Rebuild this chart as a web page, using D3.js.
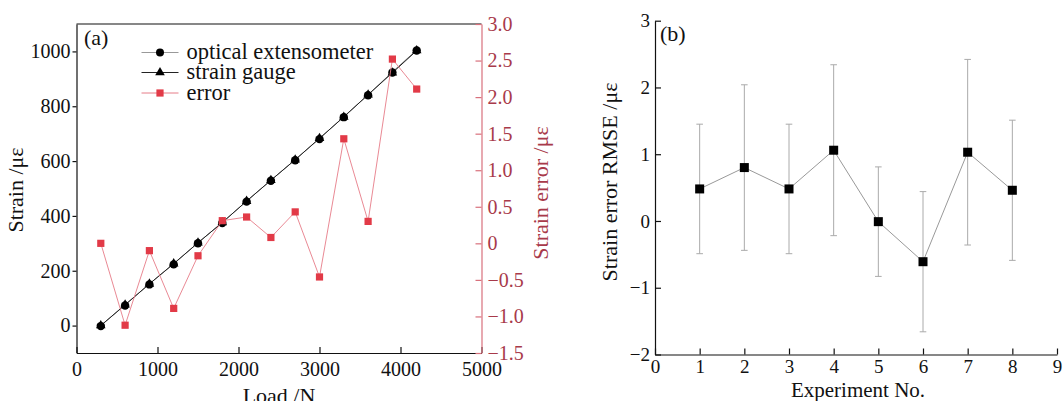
<!DOCTYPE html>
<html>
<head>
<meta charset="utf-8">
<script src="https://cdn.jsdelivr.net/npm/d3@7"></script>
<style>
  body { margin: 0; background: #fff; }
  svg text { font-family: "Liberation Serif", "Times New Roman", "DejaVu Serif", serif; }
  .axis path, .axis line { stroke: #111; stroke-width: 1.2; }
  .axis text { fill: #111; }
  .axis-red path, .axis-red line { stroke: #d8707c; stroke-width: 1.2; }
  .axis-red text { fill: #a83a4a; }
</style>
</head>
<body>
<div id="chart-container"></div>
<script>
// panel (a) data
const loads = [300, 600, 900, 1200, 1500, 1800, 2100, 2400, 2700, 3000, 3300, 3600, 3900, 4200];
const opticalStrain = [0, 75, 152, 225, 302, 376, 454, 530, 605, 682, 762, 842, 925, 1005];
const gaugeStrain = [0, 76, 152, 226, 302, 376, 454, 530, 605, 683, 761, 842, 922, 1003];
const strainError = [0, -1.12, -0.10, -0.89, -0.17, 0.31, 0.36, 0.08, 0.43, -0.46, 1.43, 0.30, 2.52, 2.11];
const loadTicks = [0, 1000, 2000, 3000, 4000, 5000];
const strainTicks = [0, 200, 400, 600, 800, 1000];
const errorTicks = [-1.5, -1.0, -0.5, 0, 0.5, 1.0, 1.5, 2.0, 2.5, 3.0];

// panel (b) data
const experiments = [1, 2, 3, 4, 5, 6, 7, 8];
const rmse = [0.48, 0.80, 0.48, 1.06, -0.01, -0.61, 1.03, 0.46];
const rmseSd = [0.97, 1.24, 0.97, 1.28, 0.82, 1.05, 1.39, 1.05];
const expTicks = [0, 1, 2, 3, 4, 5, 6, 7, 8, 9];
const rmseTicks = [-2, -1, 0, 1, 2, 3];

const width = 1063, height = 401;
const red = "#e23a47", redLine = "#e67c88", redText = "#a83a4a";
const intFmt = d3.format("d");

const svg = d3.select("#chart-container")
  .append("svg")
  .attr("width", width)
  .attr("height", height)
  .attr("font-family", "Liberation Serif, serif");

// ---------- panel (a) ----------
const xA = d3.scaleLinear().domain([0, 5000]).range([76.5, 481.5]);
const yL = d3.scaleLinear().domain([-100, 1100]).range([353, 24]);
const yR = d3.scaleLinear().domain([-1.5, 3.0]).range([353, 24]);

const gA = svg.append("g");

// top frame line
gA.append("line")
  .attr("x1", xA(0)).attr("x2", xA(5000))
  .attr("y1", yL(1100)).attr("y2", yL(1100))
  .attr("stroke", "#111").attr("stroke-width", 1.2);

gA.append("g")
  .attr("class", "axis")
  .attr("transform", `translate(0,${yL(-100)})`)
  .call(d3.axisBottom(xA).tickValues(loadTicks).tickFormat(intFmt).tickSizeInner(-6).tickSizeOuter(0).tickPadding(9))
  .selectAll("text").style("font-size", "20px");

gA.append("g")
  .attr("class", "axis")
  .attr("transform", `translate(${xA(0)},0)`)
  .call(d3.axisLeft(yL).tickValues(strainTicks).tickFormat(intFmt).tickSizeInner(4).tickSizeOuter(0).tickPadding(2))
  .selectAll("text").style("font-size", "20px");

gA.append("g")
  .attr("class", "axis-red")
  .attr("transform", `translate(${xA(5000)},0)`)
  .call(d3.axisRight(yR).tickValues(errorTicks).tickSizeInner(-6).tickSizeOuter(0).tickPadding(6)
    .tickFormat(d => d === 0 ? "0" : d3.format(".1f")(d)))
  .selectAll("text").style("font-size", "20px");

// axis titles
gA.append("text")
  .attr("transform", "translate(23,190) rotate(-90)")
  .attr("text-anchor", "middle")
  .style("font-size", "22px")
  .attr("fill", "#111")
  .text("Strain /με");

gA.append("text")
  .attr("transform", "translate(548,193) rotate(-90)")
  .attr("text-anchor", "middle")
  .style("font-size", "22px")
  .attr("fill", redText)
  .text("Strain error /με");

gA.append("text")
  .attr("x", 279).attr("y", 403)
  .attr("text-anchor", "middle")
  .style("font-size", "22px")
  .attr("fill", "#111")
  .text("Load /N");

gA.append("text")
  .attr("x", 84).attr("y", 45)
  .style("font-size", "22px")
  .attr("fill", "#111")
  .text("(a)");

// strain lines
const strainLine = d3.line().x((d, i) => xA(loads[i])).y(d => yL(d));
gA.append("path")
  .datum(opticalStrain)
  .attr("d", strainLine)
  .attr("fill", "none").attr("stroke", "#777").attr("stroke-width", 1);
gA.append("path")
  .datum(gaugeStrain)
  .attr("d", strainLine)
  .attr("fill", "none").attr("stroke", "#222").attr("stroke-width", 1);

const tri = d3.symbol().type(d3.symbolTriangle).size(40);

gA.selectAll(".gauge")
  .data(gaugeStrain)
  .enter()
  .append("path")
  .attr("class", "gauge")
  .attr("d", tri)
  .attr("transform", (d, i) => `translate(${xA(loads[i])},${yL(d)})`)
  .attr("fill", "#000");

gA.selectAll(".optical")
  .data(opticalStrain)
  .enter()
  .append("circle")
  .attr("class", "optical")
  .attr("cx", (d, i) => xA(loads[i]))
  .attr("cy", d => yL(d) + 0.5)
  .attr("r", 4.2)
  .attr("fill", "#000");

// error line
gA.append("path")
  .datum(strainError)
  .attr("d", d3.line().x((d, i) => xA(loads[i])).y(d => yR(d)))
  .attr("fill", "none").attr("stroke", redLine).attr("stroke-width", 0.9);

gA.selectAll(".err")
  .data(strainError)
  .enter()
  .append("rect")
  .attr("class", "err")
  .attr("x", (d, i) => xA(loads[i]) - 3.6)
  .attr("y", d => yR(d) - 3.6)
  .attr("width", 7.2).attr("height", 7.2)
  .attr("fill", red);

// legend
const legendItems = [
  { label: "optical extensometer", line: "#999", mark: "circle", y: 52.5 },
  { label: "strain gauge", line: "#222", mark: "triangle", y: 72.5 },
  { label: "error", line: redLine, mark: "square", y: 93 }
];
const legend = gA.append("g");
legendItems.forEach(it => {
  legend.append("line")
    .attr("x1", 141.5).attr("x2", 178.5)
    .attr("y1", it.y).attr("y2", it.y)
    .attr("stroke", it.line).attr("stroke-width", 1);
  if (it.mark === "circle") {
    legend.append("circle").attr("cx", 160).attr("cy", it.y).attr("r", 4).attr("fill", "#000");
  } else if (it.mark === "triangle") {
    legend.append("path").attr("d", tri).attr("transform", `translate(160,${it.y})`).attr("fill", "#000");
  } else {
    legend.append("rect").attr("x", 156.4).attr("y", it.y - 3.6).attr("width", 7.2).attr("height", 7.2).attr("fill", red);
  }
  legend.append("text")
    .attr("x", 186.5).attr("y", it.y + 6.5)
    .style("font-size", "22.5px")
    .attr("fill", "#111")
    .text(it.label);
});

// ---------- panel (b) ----------
const xB = d3.scaleLinear().domain([0, 9]).range([655, 1057]);
const yB = d3.scaleLinear().domain([-2, 3]).range([354.5, 20.7]);

const gB = svg.append("g");

gB.append("g")
  .attr("class", "axis")
  .attr("transform", `translate(0,${yB(-2)})`)
  .call(d3.axisBottom(xB).tickValues(expTicks).tickFormat(intFmt).tickSizeInner(-6).tickSizeOuter(0).tickPadding(5))
  .selectAll("text").style("font-size", "19px");

gB.append("g")
  .attr("class", "axis")
  .attr("transform", `translate(${xB(0)},0)`)
  .call(d3.axisLeft(yB).tickValues(rmseTicks).tickFormat(intFmt).tickSizeInner(-6).tickSizeOuter(0).tickPadding(5))
  .selectAll("text").style("font-size", "19px");

gB.append("text")
  .attr("transform", "translate(617,182) rotate(-90)")
  .attr("text-anchor", "middle")
  .style("font-size", "22px")
  .attr("fill", "#111")
  .text("Strain error RMSE /με");

gB.append("text")
  .attr("x", 858).attr("y", 397)
  .attr("text-anchor", "middle")
  .style("font-size", "21px")
  .attr("fill", "#111")
  .text("Experiment No.");

gB.append("text")
  .attr("x", 660).attr("y", 41)
  .style("font-size", "22px")
  .attr("fill", "#111")
  .text("(b)");

// error bars
const bars = gB.selectAll(".ebar")
  .data(rmse)
  .enter()
  .append("g")
  .attr("class", "ebar");
bars.append("line")
  .attr("x1", (d, i) => xB(experiments[i])).attr("x2", (d, i) => xB(experiments[i]))
  .attr("y1", (d, i) => yB(d + rmseSd[i])).attr("y2", (d, i) => yB(d - rmseSd[i]))
  .attr("stroke", "#aaa").attr("stroke-width", 1);
bars.append("line")
  .attr("x1", (d, i) => xB(experiments[i]) - 3.3).attr("x2", (d, i) => xB(experiments[i]) + 3.3)
  .attr("y1", (d, i) => yB(d + rmseSd[i])).attr("y2", (d, i) => yB(d + rmseSd[i]))
  .attr("stroke", "#aaa").attr("stroke-width", 1);
bars.append("line")
  .attr("x1", (d, i) => xB(experiments[i]) - 3.3).attr("x2", (d, i) => xB(experiments[i]) + 3.3)
  .attr("y1", (d, i) => yB(d - rmseSd[i])).attr("y2", (d, i) => yB(d - rmseSd[i]))
  .attr("stroke", "#aaa").attr("stroke-width", 1);

gB.append("path")
  .datum(rmse)
  .attr("d", d3.line().x((d, i) => xB(experiments[i])).y(d => yB(d)))
  .attr("fill", "none").attr("stroke", "#999").attr("stroke-width", 1);

gB.selectAll(".pt")
  .data(rmse)
  .enter()
  .append("rect")
  .attr("class", "pt")
  .attr("x", (d, i) => xB(experiments[i]) - 4.5)
  .attr("y", d => yB(d) - 4.5)
  .attr("width", 9).attr("height", 9)
  .attr("fill", "#000");
</script>
</body>
</html>
